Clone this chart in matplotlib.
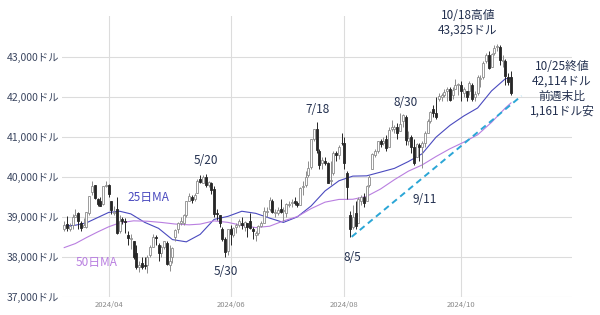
import numpy as np
import matplotlib
matplotlib.use("Agg")
import matplotlib.pyplot as plt

plt.rcParams["font.family"] = ["Noto Sans CJK JP", "DejaVu Sans"]

# trading days, Mar 7 - Oct 25 2024
DATES = [
    "3/7", "3/8", "3/11", "3/12", "3/13", "3/14", "3/15", "3/18", "3/19", "3/20", "3/21", "3/22", "3/25", "3/26", "3/27", "3/28",
    "4/1", "4/2", "4/3", "4/4", "4/5", "4/8", "4/9", "4/10", "4/11", "4/12", "4/15", "4/16", "4/17", "4/18", "4/19", "4/22", "4/23", "4/24", "4/25", "4/26", "4/29", "4/30",
    "5/1", "5/2", "5/3", "5/6", "5/7", "5/8", "5/9", "5/10", "5/13", "5/14", "5/15", "5/16", "5/17", "5/20", "5/21", "5/22", "5/23", "5/24", "5/28", "5/29", "5/30", "5/31",
    "6/3", "6/4", "6/5", "6/6", "6/7", "6/10", "6/11", "6/12", "6/13", "6/14", "6/17", "6/18", "6/20", "6/21", "6/24", "6/25", "6/26", "6/27", "6/28",
    "7/1", "7/2", "7/3", "7/5", "7/8", "7/9", "7/10", "7/11", "7/12", "7/15", "7/16", "7/17", "7/18", "7/19", "7/22", "7/23", "7/24", "7/25", "7/26", "7/29", "7/30", "7/31",
    "8/1", "8/2", "8/5", "8/6", "8/7", "8/8", "8/9", "8/12", "8/13", "8/14", "8/15", "8/16", "8/19", "8/20", "8/21", "8/22", "8/23", "8/26", "8/27", "8/28", "8/29", "8/30",
    "9/3", "9/4", "9/5", "9/6", "9/9", "9/10", "9/11", "9/12", "9/13", "9/16", "9/17", "9/18", "9/19", "9/20", "9/23", "9/24", "9/25", "9/26", "9/27", "9/30",
    "10/1", "10/2", "10/3", "10/4", "10/7", "10/8", "10/9", "10/10", "10/11", "10/14", "10/15", "10/16", "10/17", "10/18", "10/21", "10/22", "10/23", "10/24", "10/25",
]

OPEN = [
    38700, 38830, 38700, 38800, 39000, 39100, 38850, 38750, 38750, 39100, 39620, 39790, 39450, 39400, 39330, 39760,
    39800, 39400, 39100, 39200, 38650, 38950, 38900, 38550, 38450, 38400, 38100, 37750, 37850, 37800, 37800, 38050, 38250, 38500, 38300, 38100, 38250, 38350,
    37800, 38000, 38500, 38700, 38850, 38850, 39050, 39400, 39500, 39450, 39600, 39950, 39850, 40000, 39800, 39850, 39700, 39100, 39050, 38700, 38450, 38150,
    38700, 38550, 38750, 38800, 38850, 38750, 38850, 38900, 38700, 38550, 38600, 38780, 38850, 39130, 39200, 39400, 39100, 39100, 39200,
    39150, 39100, 39300, 39350, 39400, 39350, 39300, 39750, 39800, 40050, 40250, 40950, 41200, 40650, 40350, 40400, 40350, 39900, 40100, 40600, 40550, 40850,
    40850, 40100, 39050, 38750, 39100, 38850, 39400, 39500, 39400, 39800, 40200, 40550, 40650, 40900, 40850, 40950, 40750, 41200, 41200, 41250, 41150, 41400,
    41500, 40900, 41000, 40750, 40500, 40800, 40750, 40850, 41100, 41400, 41700, 41600, 41950, 42000, 42050, 42150, 42200, 42050, 42200, 42300,
    42300, 42100, 42150, 42150, 42300, 42000, 42100, 42450, 42500, 42900, 43050, 42750, 43100, 43250, 43250, 42900, 42900, 42500, 42500,
]
HIGH = [
    38900, 39020, 38840, 39060, 39200, 39120, 38900, 38960, 39130, 39530, 39890, 39800, 39470, 39500, 39770, 39890,
    39820, 39400, 39270, 39500, 39050, 39000, 38960, 38650, 38560, 38400, 38300, 37900, 38000, 38000, 38050, 38300, 38560, 38550, 38350, 38300, 38400, 38400,
    38300, 38250, 38700, 38860, 39000, 39060, 39400, 39600, 39550, 39600, 39950, 40050, 40050, 40077, 39900, 39880, 39760, 39200, 39050, 38750, 38500, 38700,
    38800, 38750, 38850, 38950, 39000, 38900, 38850, 39100, 38750, 38650, 38800, 38900, 39250, 39250, 39500, 39450, 39200, 39250, 39450,
    39250, 39350, 39400, 39450, 39500, 39400, 39750, 39900, 40150, 40400, 40950, 41200, 41376, 40700, 40500, 40500, 40380, 40400, 40650, 40650, 40800, 41100,
    41000, 40150, 39150, 39300, 39400, 39500, 39550, 39600, 39800, 40050, 40600, 40700, 40900, 40950, 41000, 41050, 41250, 41420, 41300, 41350, 41600, 41585,
    41550, 41150, 41050, 40950, 40850, 40850, 40900, 41150, 41450, 41650, 41800, 42000, 42100, 42100, 42200, 42250, 42250, 42250, 42450, 42350,
    42400, 42250, 42150, 42400, 42350, 42150, 42550, 42550, 42900, 43100, 43150, 43100, 43300, 43325, 43300, 43050, 42950, 42600, 42650,
]
LOW = [
    38640, 38650, 38640, 38700, 38990, 38700, 38650, 38740, 38730, 39050, 39550, 39450, 39280, 39270, 39300, 39740,
    39500, 39070, 39050, 38580, 38600, 38830, 38600, 38300, 38200, 37950, 37700, 37620, 37700, 37700, 37600, 38000, 38250, 38300, 37900, 38000, 38200, 37800,
    37650, 37850, 38400, 38600, 38800, 38800, 39000, 39400, 39350, 39400, 39600, 39850, 39850, 39750, 39750, 39570, 39000, 38930, 38750, 38400, 38000, 38050,
    38300, 38500, 38600, 38750, 38700, 38650, 38500, 38700, 38450, 38400, 38550, 38750, 38850, 39000, 39150, 39100, 39000, 39050, 39100,
    38900, 39000, 39250, 39250, 39300, 39250, 39300, 39550, 39750, 40000, 40200, 40900, 40600, 40200, 40200, 40300, 39850, 39800, 40050, 40400, 40450, 40800,
    40200, 39450, 38499, 38700, 38700, 38850, 39300, 39250, 39400, 39750, 40200, 40500, 40600, 40750, 40800, 40650, 40750, 41150, 41100, 40950, 41150, 41250,
    40800, 40800, 40600, 40300, 40500, 40400, 40230, 40750, 41100, 41350, 41500, 41450, 41900, 41900, 42000, 41900, 41900, 41950, 42200, 42050,
    41900, 42000, 41900, 42050, 41900, 41900, 42050, 42250, 42450, 42850, 42700, 42750, 43050, 43150, 42800, 42750, 42300, 42300, 42050,
]
CLOSE = [
    38791, 38723, 38770, 39005, 39043, 38906, 38715, 38790, 39111, 39512, 39781, 39476, 39314, 39282, 39760, 39807,
    39567, 39170, 39127, 38597, 38904, 38892, 38883, 38462, 38459, 37983, 37735, 37799, 37753, 37775, 37986, 38240, 38504, 38461, 38086, 38240, 38386, 37816,
    37903, 38226, 38676, 38852, 38884, 39056, 39388, 39513, 39432, 39558, 39908, 39869, 40004, 39807, 39873, 39671, 39065, 39070, 38853, 38442, 38112, 38686,
    38571, 38711, 38807, 38886, 38799, 38868, 38747, 38712, 38647, 38589, 38778, 38834, 39134, 39150, 39411, 39112, 39127, 39164, 39119,
    39170, 39331, 39308, 39375, 39344, 39291, 39721, 39753, 40001, 40212, 40954, 41198, 40665, 40288, 40415, 40358, 39854, 39935, 40589, 40539, 40743, 40843,
    40347, 39737, 38703, 38997, 38763, 39446, 39497, 39357, 39766, 40008, 40563, 40660, 40896, 40834, 40891, 40713, 41175, 41240, 41251, 41092, 41336, 41563,
    40937, 40975, 40756, 40345, 40830, 40737, 40861, 41097, 41394, 41622, 41606, 41503, 42025, 42063, 42125, 42208, 41915, 42175, 42313, 42330,
    42156, 42197, 42012, 42353, 41954, 42080, 42512, 42454, 42864, 43065, 42740, 43077, 43239, 43276, 42931, 42925, 42515, 42374, 42114,
]

# moving averages (roughly weekly points)
MA25_DATES = ["3/7", "3/13", "3/19", "3/25", "4/1", "4/5", "4/11", "4/18", "4/25", "5/2", "5/9", "5/16", "5/23", "5/31",
              "6/7", "6/14", "6/24", "7/1", "7/9", "7/16", "7/23", "7/30", "8/6", "8/13", "8/20", "8/27", "9/4", "9/11",
              "9/18", "9/25", "10/2", "10/9", "10/16", "10/23", "10/25"]
MA25 = [38770, 38790, 38850, 38980, 39110, 39140, 39074, 38862, 38712, 38430, 38374, 38561, 38936, 39012,
        39140, 39088, 38969, 38860, 38999, 39274, 39649, 39903, 40020, 40027, 40120, 40214, 40384, 40580,
        40995, 41290, 41526, 41727, 42154, 42460, 42476]

MA50_DATES = ["3/7", "3/13", "3/19", "3/25", "4/1", "4/5", "4/12", "4/19", "4/26", "5/3", "5/10", "5/16", "5/23", "5/31",
              "6/7", "6/14", "6/24", "7/1", "7/9", "7/16", "7/23", "7/30", "8/6", "8/13", "8/20", "8/27", "9/4", "9/11",
              "9/18", "9/25", "10/2", "10/9", "10/16", "10/23", "10/25"]
MA50 = [38230, 38330, 38480, 38620, 38750, 38850, 38900, 38890, 38860, 38820, 38800, 38818, 38899, 38862,
        38785, 38731, 38765, 38898, 39006, 39207, 39368, 39436, 39440, 39513, 39697, 39931, 40143, 40300,
        40511, 40705, 40870, 41055, 41367, 41728, 41853]

# support line (8/5 low -> 9/11 -> beyond 10/25)
TREND_X = [103.6, 164.8]
TREND_Y = [38500, 42030]

MONTH_TICK_DATES = ["4/1", "6/3", "8/1", "10/1"]
MONTH_TICK_LABELS = ["2024/04", "2024/06", "2024/08", "2024/10"]
Y_TICKS = [37000, 38000, 39000, 40000, 41000, 42000, 43000]

NAVY = "#243150"
BLUE_MA = "#4a4abf"
PURPLE_MA = "#b97fe0"


def pos(d):
    return DATES.index(d)


def draw_candles(ax):
    x = np.arange(len(DATES))
    o = np.array(OPEN, dtype=float)
    h = np.array(HIGH, dtype=float)
    l = np.array(LOW, dtype=float)
    c = np.array(CLOSE, dtype=float)
    up = c >= o
    body = np.maximum(np.abs(c - o), 18)
    bottom = np.minimum(o, c)

    wick_col = np.where(up, "#8c8c8c", "#262626")
    ax.vlines(x, l, h, colors=wick_col, linewidth=0.7, zorder=3)
    ax.bar(x[up], body[up], bottom=bottom[up], width=0.72, color="white",
           edgecolor="#8c8c8c", linewidth=0.6, zorder=4)
    ax.bar(x[~up], body[~up], bottom=bottom[~up], width=0.72, color="#262626",
           edgecolor="#262626", linewidth=0.6, zorder=4)


def main():
    fig = plt.figure(figsize=(6.0, 3.15), dpi=100)
    ax = fig.add_axes([62 / 600, 18.3 / 315, 510 / 600, 280.7 / 315])

    ax.plot([pos(d) for d in MA25_DATES], MA25, color=BLUE_MA, linewidth=0.8, zorder=2.5)
    ax.plot([pos(d) for d in MA50_DATES], MA50, color=PURPLE_MA, linewidth=0.8, zorder=2.5)
    draw_candles(ax)
    ax.plot(TREND_X, TREND_Y, color="#2ba6d6", linewidth=1.4, dashes=(3.2, 2.2), zorder=5)

    ax.set_xlim(-0.8, 183)
    ax.set_ylim(37000, 44030)
    ax.set_yticks(Y_TICKS)
    ax.set_yticklabels([f"{v:,}ドル" for v in Y_TICKS], fontsize=7.5, color="#3b4660")
    ax.set_xticks([pos(d) for d in MONTH_TICK_DATES])
    ax.set_xticklabels(MONTH_TICK_LABELS, fontsize=5.5, color="#8a8a8a")
    ax.tick_params(axis="both", length=0)
    ax.tick_params(axis="y", pad=2)
    ax.tick_params(axis="x", pad=3)
    ax.grid(True, color="#dcdcdc", linewidth=0.8, zorder=0)
    ax.set_axisbelow(True)
    for s in ax.spines.values():
        s.set_visible(False)

    # annotations
    kw = dict(fontsize=8.5, color=NAVY, ha="center", va="center")
    ax.text(51.0, 40420, "5/20", **kw)
    ax.text(58.2, 37620, "5/30", **kw)
    ax.text(91.4, 41700, "7/18", **kw)
    ax.text(103.7, 37970, "8/5", **kw)
    ax.text(123.1, 41875, "8/30", **kw)
    ax.text(130.0, 39445, "9/11", **kw)
    ax.text(145.5, 43860, "10/18高値\n43,325ドル", linespacing=1.25, **kw)
    ax.text(179.4, 42200, "10/25終値\n42,114ドル\n前週末比\n1,161ドル安", linespacing=1.2, **kw)

    ax.text(30.2, 39495, "25日MA", fontsize=8.5, color=BLUE_MA, ha="center", va="center")
    ax.text(11.5, 37845, "50日MA", fontsize=8.5, color=PURPLE_MA, ha="center", va="center")

    fig.savefig("out.png", dpi=100, facecolor="white")
    plt.close(fig)


if __name__ == "__main__":
    main()
